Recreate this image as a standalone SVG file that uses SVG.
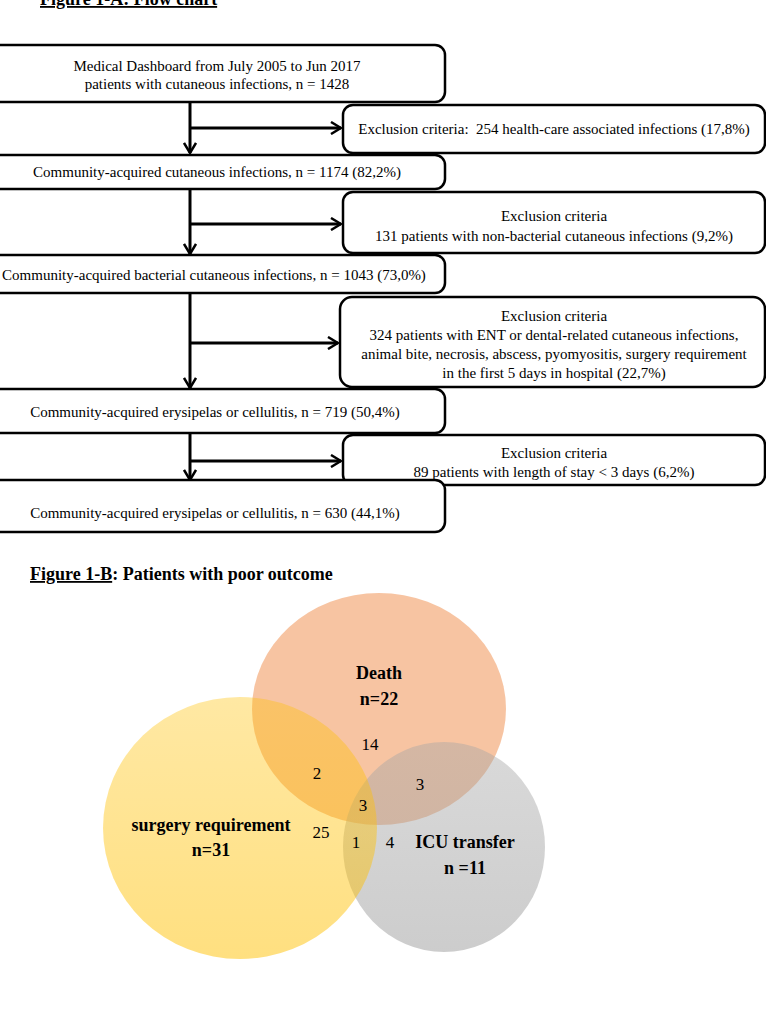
<svg xmlns="http://www.w3.org/2000/svg" width="766" height="1024" viewBox="0 0 766 1024">
<style>
.box{fill:#fff;stroke:#000;stroke-width:2.5}
.t{font-family:"Liberation Serif","Times New Roman",serif;font-size:15px;fill:#000;text-anchor:middle}
.title{font-family:"Liberation Serif","Times New Roman",serif;font-size:18px;font-weight:bold;fill:#000}
.vl{font-family:"Liberation Serif","Times New Roman",serif;font-size:18px;font-weight:bold;fill:#000;text-anchor:middle}
.vn{font-family:"Liberation Serif","Times New Roman",serif;font-size:17px;fill:#000;text-anchor:middle}
.conn{stroke:#000;stroke-width:3;fill:none;marker-end:url(#ah)}
</style>
<defs>
<marker id="ah" viewBox="0 0 12 14" refX="11" refY="7" markerWidth="12" markerHeight="14" orient="auto" markerUnits="userSpaceOnUse">
<path d="M1,1 L11,7 L1,13" fill="none" stroke="#000" stroke-width="2.5"/>
</marker>
<linearGradient id="gy" x1="0" y1="0" x2="0" y2="1">
<stop offset="0" stop-color="#FFC000" stop-opacity="0.36"/>
<stop offset="1" stop-color="#FFC000" stop-opacity="0.5"/>
</linearGradient>
<linearGradient id="gg" x1="0" y1="0" x2="0" y2="1">
<stop offset="0" stop-color="#A5A5A5" stop-opacity="0.42"/>
<stop offset="1" stop-color="#A5A5A5" stop-opacity="0.56"/>
</linearGradient>
</defs>
<rect width="766" height="1024" fill="#fff"/>

<text class="title" x="40" y="5" text-decoration="underline">Figure 1-A: Flow chart</text>

<g id="box1"><rect class="box" x="-20" y="45" width="465" height="57" rx="10"/>
<text class="t" x="217" y="71">Medical Dashboard from July 2005 to Jun 2017</text>
<text class="t" x="217" y="89">patients with cutaneous infections, n = 1428</text></g>

<g id="excl1"><rect class="box" x="343" y="105" width="422" height="48" rx="10"/>
<text class="t" x="554" y="134" style="white-space:pre">Exclusion criteria:  254 health-care associated infections (17,8%)</text></g>

<g id="box2"><rect class="box" x="-20" y="155" width="465" height="34" rx="10"/>
<text class="t" x="217" y="177">Community-acquired cutaneous infections, n = 1174 (82,2%)</text></g>

<g id="excl2"><rect class="box" x="343" y="192" width="422" height="61" rx="10"/>
<text class="t" x="554" y="221">Exclusion criteria</text>
<text class="t" x="554" y="241">131 patients with non-bacterial cutaneous infections (9,2%)</text></g>

<g id="box3"><rect class="box" x="-20" y="255" width="465" height="38" rx="10"/>
<text class="t" x="214" y="280">Community-acquired bacterial cutaneous infections, n = 1043 (73,0%)</text></g>

<g id="excl3"><rect class="box" x="340" y="297" width="425" height="90" rx="12"/>
<text class="t" x="554" y="321">Exclusion criteria</text>
<text class="t" x="554" y="340">324 patients with ENT or dental-related cutaneous infections,</text>
<text class="t" x="554" y="359">animal bite, necrosis, abscess, pyomyositis, surgery requirement</text>
<text class="t" x="554" y="378">in the first 5 days in hospital (22,7%)</text></g>

<g id="box4"><rect class="box" x="-20" y="389" width="465" height="44" rx="10"/>
<text class="t" x="215" y="417">Community-acquired erysipelas or cellulitis, n = 719 (50,4%)</text></g>

<g id="excl4"><rect class="box" x="343" y="435" width="422" height="50" rx="10"/>
<text class="t" x="554" y="458">Exclusion criteria</text>
<text class="t" x="554" y="477">89 patients with length of stay &lt; 3 days (6,2%)</text></g>

<g id="box5"><rect class="box" x="-20" y="480" width="465" height="52" rx="10"/>
<text class="t" x="215" y="518">Community-acquired erysipelas or cellulitis, n = 630 (44,1%)</text></g>

<g id="connectors">
<line class="conn" x1="190" y1="103" x2="190" y2="153"/>
<line class="conn" x1="190" y1="128" x2="341" y2="128"/>
<line class="conn" x1="190" y1="190" x2="190" y2="254"/>
<line class="conn" x1="190" y1="224" x2="341" y2="224"/>
<line class="conn" x1="190" y1="294" x2="190" y2="388"/>
<line class="conn" x1="190" y1="343" x2="338" y2="343"/>
<line class="conn" x1="190" y1="434" x2="190" y2="480"/>
<line class="conn" x1="190" y1="461" x2="341" y2="461"/>
</g>

<text class="title" x="30" y="580"><tspan text-decoration="underline">Figure 1-B</tspan>: Patients with poor outcome</text>

<g id="venn">
<g id="death"><ellipse cx="379" cy="709" rx="127" ry="116" fill="#ED7D31" fill-opacity="0.45"/></g>
<g id="icu"><ellipse cx="444" cy="847" rx="101" ry="105" fill="url(#gg)"/></g>
<g id="surgery"><ellipse cx="240" cy="828" rx="137" ry="131" fill="url(#gy)"/></g>
<text class="vl" x="379" y="679">Death</text>
<text class="vl" x="379" y="705">n=22</text>
<text class="vl" x="211" y="831">surgery requirement</text>
<text class="vl" x="211" y="856">n=31</text>
<text class="vl" x="465" y="848">ICU transfer</text>
<text class="vl" x="465" y="874">n =11</text>
<text class="vn" x="370" y="750">14</text>
<text class="vn" x="317" y="779">2</text>
<text class="vn" x="420" y="790">3</text>
<text class="vn" x="363" y="811">3</text>
<text class="vn" x="321" y="838">25</text>
<text class="vn" x="356" y="848">1</text>
<text class="vn" x="390" y="848">4</text>
</g>
</svg>
